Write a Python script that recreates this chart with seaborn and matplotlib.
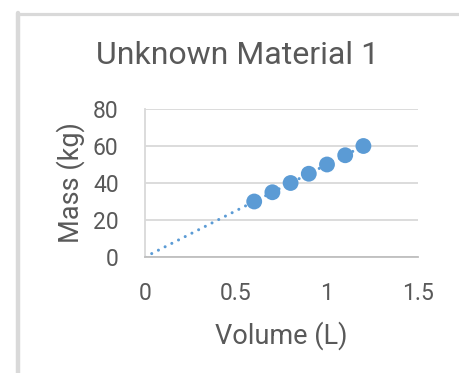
import numpy as np
import pandas as pd
import matplotlib
matplotlib.use("Agg")
import matplotlib.pyplot as plt
from matplotlib.lines import Line2D
import seaborn as sns

# Measurements
volume_l = [0.6, 0.7, 0.8, 0.9, 1.0, 1.1, 1.2]
mass_kg = [30, 35, 40, 45, 50, 55, 60]

x_ticks = [0, 0.5, 1, 1.5]
x_tick_labels = ["0", "0.5", "1", "1.5"]
y_ticks = [0, 20, 40, 60, 80]
y_tick_labels = ["0", "20", "40", "60", "80"]

title = "Unknown Material 1"
x_label = "Volume (L)"
y_label = "Mass (kg)"

blue = "#5b9bd5"
text_col = "#595959"
grid_col = "#d9d9d9"

sns.set_theme(style="white")
plt.rcParams["font.family"] = ["Roboto", "DejaVu Sans"]

W, H = 459, 373
fig = plt.figure(figsize=(W / 100, H / 100), dpi=100)
fig.patch.set_facecolor("white")

# chart frame (top and left edges)
fig.add_artist(Line2D([17.5 / W, 1.0], [1 - 14 / H, 1 - 14 / H], color="#d9d9d9", lw=2.3,
                      transform=fig.transFigure))
fig.add_artist(Line2D([18 / W, 18 / W], [0, 1 - 13 / H], color="#d9d9d9", lw=3.2,
                      transform=fig.transFigure))

left, right, top, bottom = 145, 418, 109, 257
ax = fig.add_axes([left / W, 1 - bottom / H, (right - left) / W, (bottom - top) / H])

df = pd.DataFrame({"volume": volume_l, "mass": mass_kg})

# linear trendline fitted to the measurements, drawn from the origin
slope, intercept = np.polyfit(volume_l, mass_kg, 1)
trend_x = [0.0, max(volume_l)]
trend = pd.DataFrame({"volume": trend_x, "mass": [slope * v + intercept for v in trend_x]})
sns.lineplot(data=trend, x="volume", y="mass", ax=ax, color=blue, lw=2.2,
             dashes=False, zorder=2)
ax.lines[-1].set_linestyle((0, (0.01, 2.45)))
ax.lines[-1].set_dash_capstyle("round")

sns.scatterplot(data=df, x="volume", y="mass", ax=ax, color=blue, s=130,
                edgecolor="none", zorder=3)

ax.set_xlim(0, 1.5)
ax.set_ylim(0, 80)
ax.set_xticks(x_ticks)
ax.set_xticklabels(x_tick_labels)
ax.set_yticks(y_ticks)
ax.set_yticklabels(y_tick_labels)
ax.tick_params(axis="both", length=0, labelsize=16.5, labelcolor=text_col)
ax.tick_params(axis="x", pad=18)
ax.tick_params(axis="y", pad=19)

ax.yaxis.grid(True, color=grid_col, lw=1.3)
ax.xaxis.grid(False)
ax.set_axisbelow(True)
for side in ["top", "right"]:
    ax.spines[side].set_visible(False)
ax.spines["left"].set_color(grid_col)
ax.spines["left"].set_linewidth(1.3)
ax.spines["bottom"].set_color("#bfbfbf")
ax.spines["bottom"].set_linewidth(1.3)

ax.set_xlabel(x_label, fontsize=19.5, color=text_col, labelpad=12)
ax.set_ylabel(y_label, fontsize=19.5, color=text_col, labelpad=6)

fig.text(238 / W, 1 - 55 / H, title, ha="center", va="center", fontsize=23,
         color=text_col)

fig.savefig("out.png", dpi=100, facecolor="white")
